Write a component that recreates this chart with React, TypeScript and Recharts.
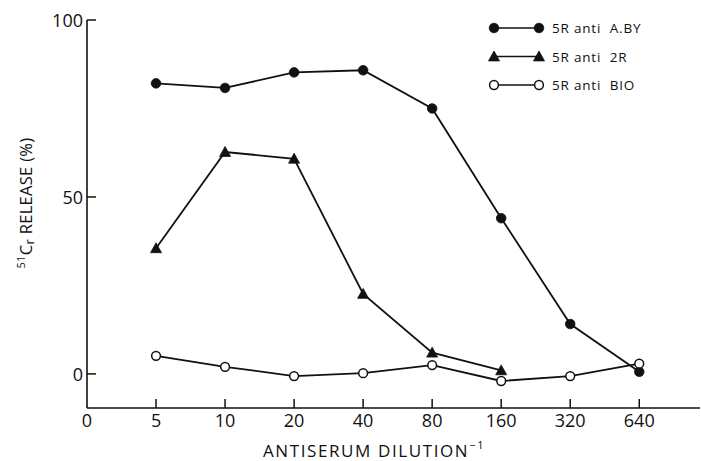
import { LineChart, Line, XAxis, YAxis, Customized } from "recharts"

// antiserum dilutions (reciprocal), equally spaced on the x axis
const dilutions = ["5", "10", "20", "40", "80", "160", "320", "640"]
const xTickLabels = ["0", ...dilutions]
const yTicks = [0, 50, 100]

// 51Cr release (%)
const antiABY = [82.1, 80.8, 85.2, 85.8, 75.0, 44.0, 14.1, 0.6]
const anti2R = [35.5, 62.7, 60.8, 22.6, 6.0, 1.0]
const antiBIO = [5.1, 2.0, -0.6, 0.2, 2.5, -2.0, -0.6, 2.9]

const legendItems = [
  { name: "5R anti  A.BY", marker: "dot" },
  { name: "5R anti  2R", marker: "tri" },
  { name: "5R anti  BIO", marker: "open" },
]

const data = dilutions.map((d, i) => ({
  pos: i + 1,
  label: d,
  aby: antiABY[i],
  r2: anti2R[i],
  bio: antiBIO[i],
}))

const FONT = "'Open Sans', 'DejaVu Sans', sans-serif"
const INK = "#111"

function Marker({ kind, cx, cy }: { kind: string; cx: number; cy: number }) {
  if (kind === "tri") {
    const s = 5.5
    return (
      <polygon
        points={`${cx},${cy - s} ${cx - s},${cy + s * 0.8} ${cx + s},${cy + s * 0.8}`}
        fill={INK}
        stroke={INK}
        strokeWidth={0.8}
      />
    )
  }
  if (kind === "open") {
    return <circle cx={cx} cy={cy} r={4.4} fill="#fff" stroke={INK} strokeWidth={1.5} />
  }
  return <circle cx={cx} cy={cy} r={4.8} fill={INK} stroke={INK} strokeWidth={0.8} />
}

const makeDot = (kind: string) => (props: any) => {
  const { cx, cy, index } = props
  if (cx == null || cy == null || props.value == null) return <g key={index} />
  return <Marker key={index} kind={kind} cx={cx} cy={cy} />
}

function YTick(props: any) {
  const { x, y, payload } = props
  return (
    <g>
      <line x1={x} x2={x + 9} y1={y} y2={y} stroke={INK} strokeWidth={1.5} />
      <text x={x - 4} y={y + 7} textAnchor="end" fontSize={18} fontFamily={FONT} fill={INK}>
        {payload.value}
      </text>
    </g>
  )
}

function XTick(props: any) {
  const { x, y, payload } = props
  return (
    <g>
      {payload.value !== 0 && (
        <line x1={x} x2={x} y1={y} y2={y - 9} stroke={INK} strokeWidth={1.5} />
      )}
      <text x={x} y={y + 19} textAnchor="middle" fontSize={18} fontFamily={FONT} fill={INK}>
        {xTickLabels[payload.value]}
      </text>
    </g>
  )
}

function Labels() {
  return (
    <g fontFamily={FONT} fill={INK}>
      <text x={374} y={457} textAnchor="middle" fontSize={17} letterSpacing={1.6}>
        ANTISERUM DILUTION
        <tspan fontSize={11} dy={-8}>−1</tspan>
      </text>
      <text
        x={32}
        y={203}
        textAnchor="middle"
        fontSize={16.5}
        letterSpacing={0.3}
        transform="rotate(-90, 32, 203)"
      >
        <tspan fontSize={11} dy={-7}>51</tspan>
        <tspan dy={7}>C</tspan>
        <tspan fontSize={13} dy={2}>r</tspan>
        <tspan dy={-2}> RELEASE (%)</tspan>
      </text>
      {legendItems.map((it, i) => {
        const y = 28 + i * 28.5
        return (
          <g key={it.name}>
            <line x1={494} x2={539} y1={y} y2={y} stroke={INK} strokeWidth={1.6} />
            <Marker kind={it.marker} cx={494} cy={y} />
            <Marker kind={it.marker} cx={539} cy={y} />
            <text x={552} y={y + 5} fontSize={13.5} letterSpacing={0.8} style={{ whiteSpace: "pre" }}>
              {it.name}
            </text>
          </g>
        )
      })}
    </g>
  )
}

export default function App() {
  return (
    <div style={{ position: "absolute", left: 0, top: 0, background: "#fff" }}>
      <LineChart
        width={701}
        height={461}
        data={data}
        margin={{ top: 20, right: 1, bottom: 0, left: 0 }}
      >
        <XAxis
          type="number"
          dataKey="pos"
          domain={[0, 8.88]}
          ticks={[0, 1, 2, 3, 4, 5, 6, 7, 8]}
          allowDataOverflow
          height={53}
          tickSize={0}
          tickMargin={0}
          tickLine={false}
          axisLine={{ stroke: INK, strokeWidth: 1.6 }}
          tick={<XTick />}
        />
        <YAxis
          type="number"
          domain={[-9.63, 100]}
          ticks={yTicks}
          allowDataOverflow
          width={87}
          tickSize={0}
          tickMargin={0}
          tickLine={false}
          axisLine={{ stroke: INK, strokeWidth: 1.6 }}
          tick={<YTick />}
        />
        <Line
          dataKey="aby"
          stroke={INK}
          strokeWidth={1.8}
          dot={makeDot("dot")}
          isAnimationActive={false}
        />
        <Line
          dataKey="r2"
          stroke={INK}
          strokeWidth={1.8}
          dot={makeDot("tri")}
          isAnimationActive={false}
        />
        <Line
          dataKey="bio"
          stroke={INK}
          strokeWidth={1.8}
          dot={makeDot("open")}
          isAnimationActive={false}
        />
        <Customized component={<Labels />} />
      </LineChart>
    </div>
  )
}
